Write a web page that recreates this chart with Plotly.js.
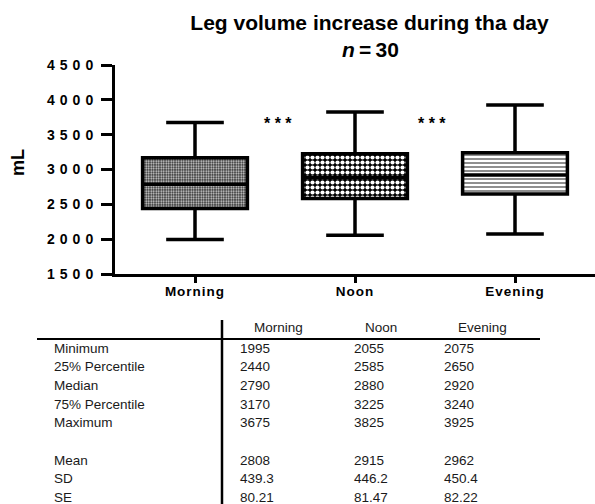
<!DOCTYPE html>
<html>
<head>
<meta charset="utf-8">
<script src="https://cdn.plot.ly/plotly-3.0.1.min.js"></script>
<style>
  html, body { margin: 0; padding: 0; background: #fff; }
  #chart { width: 595px; height: 504px; }
  .ytick text { letter-spacing: 5px; }
  .xtick text { letter-spacing: 1px; }
</style>
</head>
<body>
<div id="chart"></div>
<script>
// ---- data ----
const categories = ['Morning', 'Noon', 'Evening'];
const minimum = [1995, 2055, 2075];
const q1 = [2440, 2585, 2650];
const median = [2790, 2880, 2920];
const q3 = [3170, 3225, 3240];
const maximum = [3675, 3825, 3925];
const mean = [2808, 2915, 2962];
const sd = [439.3, 446.2, 450.4];
const se = [80.21, 81.47, 82.22];
const yTickVals = [1500, 2000, 2500, 3000, 3500, 4000, 4500];
const yTickText = ['1500', '2000', '2500', '3000', '3500', '4000', '4500'];
const sigLabels = ['* * *', '* * *'];
const sigX = [0.52, 1.48];
const sigY = [3660, 3660];
const tableRowLabels = ['Minimum', '25% Percentile', 'Median', '75% Percentile', 'Maximum', '', 'Mean', 'SD', 'SE'];
const tableRows = [minimum, q1, median, q3, maximum, null, mean, sd, se];

// ---- geometry helpers ----
const W = 595, H = 504;
const M = { l: 115, r: 0, t: 65, b: 230 };
const PW = W - M.l - M.r, PH = H - M.t - M.b;
const px2x = px => (px - M.l) / PW;
const py2y = py => (H - M.b - py) / PH;

const FONT = 'Liberation Sans, Arial, Helvetica, sans-serif';
const boxW = 0.655;

const patternTrace = {
  type: 'bar',
  x: categories,
  base: q1,
  y: q3.map((v, i) => v - q1[i]),
  width: boxW,
  marker: {
    color: 'white',
    line: { width: 0 },
    pattern: {
      shape: ['.', '.', '-'],
      fgcolor: ['#dcdcdc', 'white', 'black'],
      bgcolor: ['#2a2a2a', 'black', 'white'],
      size: [2.5, 5, 4],
      solidity: [0.45, 0.55, 0.22],
      fillmode: 'replace'
    }
  },
  hoverinfo: 'skip',
  showlegend: false
};

const boxTrace = {
  type: 'box',
  x: categories,
  q1: q1,
  median: median,
  q3: q3,
  lowerfence: minimum,
  upperfence: maximum,
  width: boxW,
  whiskerwidth: 0.55,
  boxpoints: false,
  line: { color: 'black', width: 3.5 },
  fillcolor: 'rgba(0,0,0,0)',
  hoverinfo: 'skip',
  showlegend: false
};

const annotations = [];
// subtitle
annotations.push({
  xref: 'paper', yref: 'paper', x: px2x(370), y: py2y(50), text: '<i>n</i>\u2009=\u200930',
  showarrow: false, font: { family: FONT, size: 21, color: 'black', weight: 'bold' },
  xanchor: 'center', yanchor: 'middle'
});
// significance marks
sigLabels.forEach((t, i) => annotations.push({
  x: sigX[i], y: sigY[i], xref: 'x', yref: 'y', text: t, showarrow: false,
  font: { family: FONT, size: 16, color: 'black', weight: 'bold' },
  xanchor: 'center', yanchor: 'middle'
}));
// y axis label
annotations.push({
  xref: 'paper', yref: 'paper', x: px2x(18), y: py2y(163), text: 'mL',
  textangle: -90, showarrow: false,
  font: { family: FONT, size: 18, color: 'black', weight: 'bold' },
  xanchor: 'center', yanchor: 'middle'
});

// ---- table ----
const tFont = { family: FONT, size: 13.5, color: '#1a1a1a' };
const headerCenters = [278, 381, 482];
const colLefts = [238, 352, 442];
categories.forEach((c, j) => annotations.push({
  xref: 'paper', yref: 'paper', x: px2x(headerCenters[j]), y: py2y(327),
  text: c, showarrow: false, font: tFont, xanchor: 'center', yanchor: 'middle'
}));
const rowY0 = 348, rowStep = 18.7;
tableRowLabels.forEach((lab, i) => {
  const py = rowY0 + i * rowStep;
  if (lab) {
    annotations.push({
      xref: 'paper', yref: 'paper', x: px2x(52), y: py2y(py), text: lab,
      showarrow: false, font: tFont, xanchor: 'left', yanchor: 'middle'
    });
  }
  const row = tableRows[i];
  if (row) {
    row.forEach((v, j) => annotations.push({
      xref: 'paper', yref: 'paper', x: px2x(colLefts[j]), y: py2y(py), text: String(v),
      showarrow: false, font: tFont, xanchor: 'left', yanchor: 'middle'
    }));
  }
});

const shapes = [
  { type: 'line', xref: 'paper', yref: 'paper', x0: px2x(37), x1: px2x(540), y0: py2y(339), y1: py2y(339),
    line: { color: 'black', width: 2 } },
  { type: 'line', xref: 'paper', yref: 'paper', x0: px2x(222), x1: px2x(222), y0: py2y(320), y1: py2y(506),
    line: { color: 'black', width: 2.5 } }
];

const layout = {
  width: W, height: H,
  margin: M,
  paper_bgcolor: 'white', plot_bgcolor: 'white',
  showlegend: false,
  title: {
    text: 'Leg volume increase during tha day',
    font: { family: FONT, size: 21, color: 'black', weight: 'bold' },
    x: 369.5 / W, xanchor: 'center', xref: 'container',
    y: 1 - 23 / H, yanchor: 'middle', yref: 'container'
  },
  xaxis: {
    type: 'category', range: [-0.5, 2.5],
    showline: true, linewidth: 3, linecolor: 'black',
    ticks: 'outside', ticklen: 6, tickwidth: 3, tickcolor: 'black',
    ticklabelstandoff: -3,
    showgrid: false, zeroline: false,
    tickfont: { family: FONT, size: 13.5, color: 'black', weight: 'bold' }
  },
  yaxis: {
    range: [1500, 4500],
    tickvals: yTickVals, ticktext: yTickText,
    showline: true, linewidth: 3, linecolor: 'black',
    ticks: 'outside', ticklen: 11, tickwidth: 3, tickcolor: 'black',
    showgrid: false, zeroline: false,
    tickfont: { family: FONT, size: 14, color: 'black', weight: 'bold' }
  },
  bargap: 0,
  annotations: annotations,
  shapes: shapes
};

Plotly.newPlot('chart', [patternTrace, boxTrace], layout, { displayModeBar: false, staticPlot: true });
</script>
</body>
</html>
